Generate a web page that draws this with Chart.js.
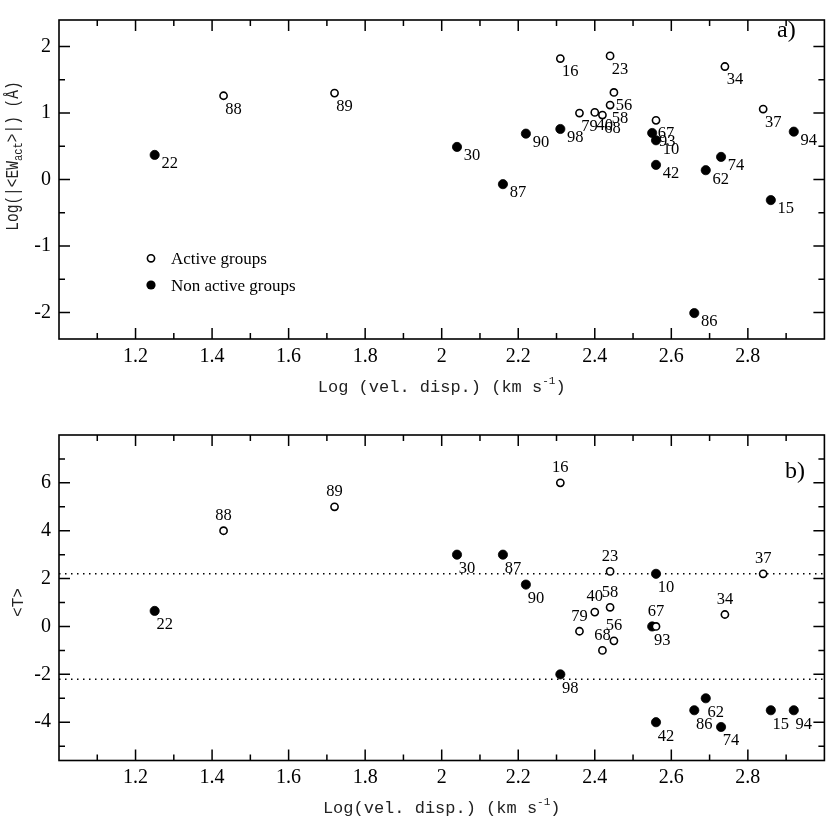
<!DOCTYPE html>
<html>
<head>
<meta charset="utf-8">
<script src="https://cdn.jsdelivr.net/npm/chart.js@4.4.1/dist/chart.umd.min.js"></script>
<style>
html,body{margin:0;padding:0;background:#fff;}
#wrap{position:relative;width:830px;height:829px;background:#fff;overflow:hidden;}
canvas{position:absolute;left:0;}
</style>
</head>
<body>
<div id="wrap">
<canvas id="c1" width="830" height="415" style="top:0;width:830px;height:415px"></canvas>
<canvas id="c2" width="830" height="414" style="top:415px;width:830px;height:414px"></canvas>
</div>
<script>
// ---------- data ----------
const activeIds      = ['88','89','16','79','40','68','23','58','56','67','34','37'];
const activeVelDisp  = [1.43,1.72,2.31,2.36,2.40,2.42,2.44,2.44,2.45,2.56,2.74,2.84];
const activeLogEW    = [1.26,1.30,1.82,1.00,1.01,0.97,1.86,1.12,1.31,0.89,1.70,1.06];
const activeT        = [4.0,5.0,6.0,-0.2,0.6,-1.0,2.3,0.8,-0.6,0.0,0.5,2.2];

const nonIds         = ['22','30','87','90','98','93','10','42','86','62','74','15','94'];
const nonVelDisp     = [1.25,2.04,2.16,2.22,2.31,2.55,2.56,2.56,2.66,2.69,2.73,2.86,2.92];
const nonLogEW       = [0.37,0.49,-0.07,0.69,0.76,0.70,0.59,0.22,-2.01,0.14,0.34,-0.31,0.72];
const nonT           = [0.65,3.0,3.0,1.75,-2.0,0.0,2.2,-4.0,-3.5,-3.0,-4.2,-3.5,-3.5];

const xRange       = [1.0, 3.0];
const xMajorTicks  = [1.2,1.4,1.6,1.8,2.0,2.2,2.4,2.6,2.8];
const xTickLabels  = ['1.2','1.4','1.6','1.8','2','2.2','2.4','2.6','2.8'];
const xMinorTicks  = [1.1,1.3,1.5,1.7,1.9,2.1,2.3,2.5,2.7,2.9];

const ewRange      = [-2.4, 2.4];
const ewMajorTicks = [-2,-1,0,1,2];
const ewTickLabels = ['-2','-1','0','1','2'];
const ewMinorTicks = [-1.5,-0.5,0.5,1.5];

const tRange       = [-5.6, 8];
const tMajorTicks  = [-4,-2,0,2,4,6];
const tTickLabels  = ['-4','-2','0','2','4','6'];
const tMinorTicks  = [-5,-3,-1,1,3,5,7];
const tLimits      = [2.2, -2.2];

const legendLabels = ['Active groups','Non active groups'];

// ---------- styling helpers ----------
const SERIF = '"Liberation Serif","Times New Roman",serif';
const MONO  = '"Liberation Mono","Courier New",monospace';
const f = (s, fam) => s + 'px ' + fam;

function runsWidth(ctx, runs, fam) {
  let w = 0;
  runs.forEach(r => { ctx.font = f(r.s, fam); w += ctx.measureText(r.t).width; });
  return w;
}
function drawRuns(ctx, runs, fam, x0, y0) {
  let x = x0;
  runs.forEach(r => {
    ctx.font = f(r.s, fam);
    ctx.fillText(r.t, x, y0 + (r.dy || 0));
    x += ctx.measureText(r.t).width;
  });
}

function makeDecor(cfg) {
  return {
    id: 'decor',
    afterDatasetsDraw(chart) {
      const {ctx, chartArea: a} = chart;
      const xs = chart.scales.x, ys = chart.scales.y;
      ctx.save();
      // inward ticks on all sides
      ctx.strokeStyle = '#000';
      ctx.lineWidth = 1.5;
      ctx.beginPath();
      const tickX = (vals, len) => vals.forEach(v => {
        const p = xs.getPixelForValue(v);
        ctx.moveTo(p, a.bottom); ctx.lineTo(p, a.bottom - len);
        ctx.moveTo(p, a.top); ctx.lineTo(p, a.top + len);
      });
      const tickY = (vals, len) => vals.forEach(v => {
        const p = ys.getPixelForValue(v);
        ctx.moveTo(a.left, p); ctx.lineTo(a.left + len, p);
        ctx.moveTo(a.right, p); ctx.lineTo(a.right - len, p);
      });
      tickX(xMajorTicks, 11); tickX(xMinorTicks, 6);
      tickY(cfg.yMajor, 11); tickY(cfg.yMinor, 6);
      ctx.stroke();
      ctx.lineWidth = 1.6;
      ctx.strokeRect(a.left, a.top, a.right - a.left, a.bottom - a.top);

      // point labels
      ctx.fillStyle = '#000';
      ctx.font = f(16.5, SERIF);
      ctx.textAlign = 'center';
      ctx.textBaseline = 'middle';
      cfg.labelSets.forEach(ls => {
        const meta = chart.getDatasetMeta(ls.dataset);
        meta.data.forEach((pt, i) => ctx.fillText(ls.ids[i], pt.x + ls.dx, pt.y + ls.dy));
      });

      // panel letter
      ctx.textAlign = 'left';
      ctx.textBaseline = 'alphabetic';
      ctx.font = f(24, SERIF);
      ctx.fillText(cfg.letter.t, cfg.letter.x, cfg.letter.y);

      // legend
      if (cfg.legend) {
        const lg = cfg.legend;
        lg.rows.forEach((row, i) => {
          ctx.beginPath();
          ctx.arc(lg.x, row.y, row.filled ? 4.6 : 3.6, 0, Math.PI * 2);
          if (row.filled) { ctx.fillStyle = '#000'; ctx.fill(); }
          else { ctx.fillStyle = '#fff'; ctx.fill(); ctx.lineWidth = 1.6; ctx.strokeStyle = '#000'; ctx.stroke(); }
          ctx.fillStyle = '#000';
          ctx.font = f(17, SERIF);
          ctx.fillText(legendLabels[i], lg.tx, row.y + 6);
        });
      }

      // x axis title
      ctx.fillStyle = '#222';
      ctx.textBaseline = 'alphabetic';
      ctx.textAlign = 'left';
      const xw = runsWidth(ctx, cfg.xTitle, MONO);
      drawRuns(ctx, cfg.xTitle, MONO, (a.left + a.right) / 2 - xw / 2, a.bottom + 52.5);

      // y axis title (rotated)
      ctx.save();
      ctx.translate(cfg.yTitlePos.x, cfg.yTitlePos.y);
      ctx.rotate(-Math.PI / 2);
      ctx.scale(1, cfg.yTitlePos.stretch);
      const yw = runsWidth(ctx, cfg.yTitle, MONO);
      drawRuns(ctx, cfg.yTitle, MONO, -yw / 2, 0);
      ctx.restore();

      ctx.restore();
    }
  };
}

function makePanel(id, cfg) {
  const datasets = [
    {
      label: legendLabels[0],
      data: activeVelDisp.map((v, i) => ({x: v, y: cfg.activeY[i]})),
      pointStyle: 'circle', pointRadius: 3.6, pointBorderWidth: 1.6,
      pointBackgroundColor: '#fff', pointBorderColor: '#000',
      backgroundColor: '#fff', borderColor: '#000'
    },
    {
      label: legendLabels[1],
      data: nonVelDisp.map((v, i) => ({x: v, y: cfg.nonY[i]})),
      pointStyle: 'circle', pointRadius: 4.6, pointBorderWidth: 0.8,
      pointBackgroundColor: '#000', pointBorderColor: '#000',
      backgroundColor: '#000', borderColor: '#000'
    }
  ];
  (cfg.limits || []).forEach(v => datasets.push({
    label: 'limit',
    data: [{x: xRange[0], y: v}, {x: xRange[1], y: v}],
    showLine: true, pointRadius: 0, borderColor: '#000', borderWidth: 1.5,
    borderDash: [1.5, 4.5], borderCapStyle: 'butt', fill: false
  }));

  return new Chart(document.getElementById(id), {
    type: 'scatter',
    data: {datasets},
    options: {
      responsive: false,
      animation: false,
      events: [],
      layout: {padding: {top: cfg.padTop, right: 4, bottom: 0, left: 0}},
      plugins: {legend: {display: false}, tooltip: {enabled: false}, title: {display: false}},
      scales: {
        x: {
          type: 'linear', position: 'bottom', min: xRange[0], max: xRange[1],
          afterBuildTicks: s => { s.ticks = xMajorTicks.map(v => ({value: v})); },
          afterFit: s => { s.height = cfg.xHeight; },
          ticks: {
            callback: (v, i) => xTickLabels[i], autoSkip: false, maxRotation: 0, minRotation: 0,
            font: {family: SERIF, size: 20, lineHeight: 1.2}, color: '#000', padding: cfg.xPad
          },
          grid: {display: false, drawTicks: false},
          border: {display: false},
          title: {display: false}
        },
        y: {
          type: 'linear', position: 'left', min: cfg.yRange[0], max: cfg.yRange[1],
          afterBuildTicks: s => { s.ticks = cfg.yMajor.map(v => ({value: v})); },
          afterFit: s => { s.width = 59; },
          ticks: {
            callback: (v, i) => cfg.yLabels[i], autoSkip: false,
            font: {family: SERIF, size: 20, lineHeight: 1.2}, color: '#000', padding: 8
          },
          grid: {display: false, drawTicks: false},
          border: {display: false},
          title: {display: false}
        }
      }
    },
    plugins: [makeDecor(cfg)]
  });
}

makePanel('c1', {
  activeY: activeLogEW, nonY: nonLogEW,
  yRange: ewRange, yMajor: ewMajorTicks, yMinor: ewMinorTicks, yLabels: ewTickLabels,
  padTop: 3, xHeight: 76, xPad: 6,
  labelSets: [
    {dataset: 0, ids: activeIds, dx: 10, dy: 13.5},
    {dataset: 1, ids: nonIds, dx: 15, dy: 9}
  ],
  letter: {t: 'a)', x: 777, y: 37},
  legend: {x: 151, tx: 171, rows: [{y: 258.3, filled: false}, {y: 285, filled: true}]},
  xTitle: [{t: 'Log (vel. disp.) (km s', s: 17}, {t: '-1', s: 11, dy: -8}, {t: ')', s: 17}],
  yTitle: [{t: 'Log(|<EW', s: 14.5}, {t: 'act', s: 10.5, dy: 2.6}, {t: '>|) (Å)', s: 14.5}],
  yTitlePos: {x: 18.3, y: 156, stretch: 1.3}
});

makePanel('c2', {
  activeY: activeT, nonY: nonT, limits: tLimits,
  yRange: tRange, yMajor: tMajorTicks, yMinor: tMinorTicks, yLabels: tTickLabels,
  padTop: 19, xHeight: 68.5, xPad: 5,
  labelSets: [
    {dataset: 0, ids: activeIds, dx: 0, dy: -15},
    {dataset: 1, ids: nonIds, dx: 10, dy: 14}
  ],
  letter: {t: 'b)', x: 785, y: 63},
  legend: null,
  xTitle: [{t: 'Log(vel. disp.) (km s', s: 17}, {t: '-1', s: 11, dy: -8}, {t: ')', s: 17}],
  yTitle: [{t: '<T>', s: 16}],
  yTitlePos: {x: 22.7, y: 187.5, stretch: 1}
});
</script>
</body>
</html>
